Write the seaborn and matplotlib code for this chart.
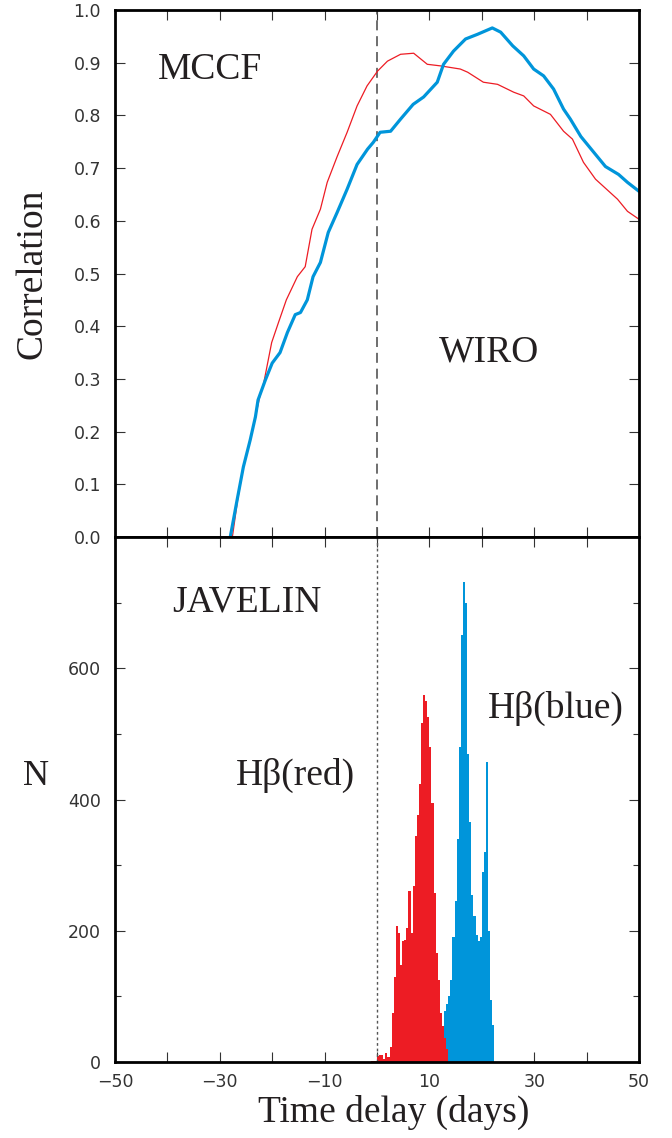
import matplotlib
matplotlib.use("Agg")
import matplotlib.pyplot as plt
import seaborn as sns
import numpy as np
import pandas as pd

# ---- MCCF cross-correlation curves (time delay in days, correlation) ----
red_lag = [-27.6, -26.6, -25.5, -24.2, -23.2, -22.4, -21.6, -20.1, -18.8, -17.3,
           -15.2, -13.7, -12.4, -10.8, -9.5, -7.6, -5.7, -3.8, -1.9, 0.1,
           2.0, 4.5, 7.0, 9.6, 12.1, 15.9, 17.3, 20.3, 23.0, 26.1,
           28.0, 29.9, 33.1, 35.6, 37.3, 39.4, 41.7, 45.9, 47.8, 50.0]
red_ccf = [0.0, 0.07, 0.133, 0.184, 0.228, 0.265, 0.293, 0.369, 0.407, 0.45,
           0.494, 0.513, 0.584, 0.622, 0.673, 0.722, 0.768, 0.818, 0.856, 0.884,
           0.903, 0.916, 0.918, 0.897, 0.894, 0.888, 0.882, 0.863, 0.859, 0.844,
           0.837, 0.818, 0.802, 0.770, 0.755, 0.711, 0.679, 0.641, 0.618, 0.603]

blue_lag = [-28.0, -26.7, -25.5, -24.2, -23.2, -22.7, -21.3, -20.0, -18.5, -17.1,
            -15.6, -14.6, -13.3, -12.2, -10.8, -9.3, -7.6, -5.7, -3.8, -1.8,
            -0.7, 0.6, 2.6, 4.5, 6.9, 8.9, 11.5, 12.7, 14.6, 16.9,
            19.2, 22.0, 23.6, 25.9, 28.0, 29.9, 31.8, 33.7, 35.6, 36.9,
            38.9, 41.7, 43.6, 46.1, 47.8, 50.0]
blue_ccf = [0.0, 0.07, 0.133, 0.184, 0.228, 0.26, 0.298, 0.33, 0.35, 0.388,
            0.422, 0.426, 0.45, 0.494, 0.521, 0.578, 0.616, 0.660, 0.707, 0.736,
            0.749, 0.768, 0.770, 0.793, 0.821, 0.835, 0.863, 0.897, 0.922, 0.945,
            0.954, 0.966, 0.958, 0.932, 0.913, 0.888, 0.875, 0.850, 0.812, 0.793,
            0.760, 0.726, 0.703, 0.688, 0.673, 0.656]

# ---- JAVELIN lag distributions (0.4-day bins) ----
red_bin_start = -1.2
red_counts = [2, 2, 2, 9, 10, 10, 5, 14, 7, 23,
              75, 130, 207, 196, 148, 184, 186, 204, 260, 197,
              268, 344, 377, 423, 517, 560, 550, 525, 480, 395,
              258, 166, 125, 74, 55, 37, 20]

blue_bin_start = 12.8
blue_counts = [77, 88, 100, 125, 190, 245, 340, 480, 650, 731,
               700, 470, 365, 255, 222, 194, 185, 190, 290, 320,
               457, 200, 95, 56]
bin_width = 0.4

# ---- axis ticks ----
x_ticks = [-50, -40, -30, -20, -10, 0, 10, 20, 30, 40, 50]
x_tick_labels = ["\u221250", "", "\u221230", "", "\u221210", "", "10", "", "30", "", "50"]
corr_ticks = [0.0, 0.1, 0.2, 0.3, 0.4, 0.5, 0.6, 0.7, 0.8, 0.9, 1.0]
corr_tick_labels = ["0.0", "0.1", "0.2", "0.3", "0.4", "0.5", "0.6", "0.7", "0.8", "0.9", "1.0"]
n_ticks = [0, 200, 400, 600, 800]
n_tick_labels = ["0", "200", "400", "600", ""]
n_minor_ticks = [100, 300, 500, 700]

RED = "#ED1C24"
BLUE = "#0095DA"
INK = "#231F20"
SERIF = "Liberation Serif"

sns.set_style("ticks")
plt.rcParams["font.family"] = ["DejaVu Sans"]
plt.rcParams["axes.linewidth"] = 2.0

fig = plt.figure(figsize=(6.72, 11.38), dpi=100)
ax1 = fig.add_axes([0.1711, 0.5281, 0.7798, 0.4631])
ax2 = fig.add_axes([0.1711, 0.0668, 0.7798, 0.4613], sharex=ax1)

# top panel: cross-correlation functions
df_red = pd.DataFrame({"lag": red_lag, "r": red_ccf})
df_blue = pd.DataFrame({"lag": blue_lag, "r": blue_ccf})
sns.lineplot(data=df_red, x="lag", y="r", ax=ax1, color=RED, lw=0.9)
sns.lineplot(data=df_blue, x="lag", y="r", ax=ax1, color=BLUE, lw=2.3)
ax1.axvline(0, color="#555555", ls=(0, (6, 3.5)), lw=1.2, zorder=1)

# bottom panel: lag histograms
red_edges = [float(v) for v in red_bin_start + bin_width * np.arange(len(red_counts) + 1)]
blue_edges = [float(v) for v in blue_bin_start + bin_width * np.arange(len(blue_counts) + 1)]
hist_red = pd.DataFrame({"lag": np.add(red_edges[:-1], red_edges[1:]) / 2, "n": red_counts})
hist_blue = pd.DataFrame({"lag": np.add(blue_edges[:-1], blue_edges[1:]) / 2, "n": blue_counts})
sns.histplot(data=hist_blue, x="lag", weights="n", bins=blue_edges, element="step",
             fill=True, color=BLUE, alpha=1, linewidth=0, ax=ax2)
sns.histplot(data=hist_red, x="lag", weights="n", bins=red_edges, element="step",
             fill=True, color=RED, alpha=1, linewidth=0, ax=ax2)
ax2.axvline(0, color="#555555", ls=(0, (2, 2)), lw=1.0, zorder=1)

# axes styling
for ax in (ax1, ax2):
    ax.set_xlim(-50, 50)
    ax.tick_params(which="both", direction="in", top=True, right=True,
                   width=0.8, color="#333333", labelsize=12.5, labelcolor="#333333")
    ax.tick_params(which="major", length=7, pad=10)
    ax.tick_params(which="minor", length=4)
    for sp in ax.spines.values():
        sp.set_linewidth(2.0)
        sp.set_color("black")

ax1.set_ylim(0, 1.0)
ax1.set_yticks(corr_ticks)
ax1.set_yticklabels(corr_tick_labels)
ax1.tick_params(labelbottom=False)
ax1.set_xlabel("")
ax1.set_ylabel("Correlation", fontfamily=SERIF, fontsize=27, color=INK)
ax1.yaxis.set_label_coords(-0.125, 0.5)

ax2.set_ylim(0, 800)
ax2.set_yticks(n_ticks)
ax2.set_yticklabels(n_tick_labels)
ax2.set_yticks(n_minor_ticks, minor=True)
ax2.set_xticks(x_ticks)
ax2.set_xticklabels(x_tick_labels)
ax2.tick_params(axis="x", pad=8)
ax2.set_ylabel("N", fontfamily=SERIF, fontsize=26, color=INK, rotation=0)
ax2.yaxis.set_label_coords(-0.15, 0.513)
ax2.set_xlabel("Time delay (days)", fontfamily=SERIF, fontsize=27, color=INK)
ax2.xaxis.set_label_coords(0.532, -0.062)

# panel annotations
ax1.text(-41.8, 0.869, "MCCF", fontfamily=SERIF, fontsize=27, color=INK, va="baseline")
ax1.text(11.8, 0.333, "WIRO", fontfamily=SERIF, fontsize=27, color=INK, va="baseline")
ax2.text(-39.1, 687, "JAVELIN", fontfamily=SERIF, fontsize=27, color=INK, va="baseline")
ax2.text(-26.9, 423, "H\u03b2(red)", fontfamily=SERIF, fontsize=27, color=INK, va="baseline")
ax2.text(21.1, 525, "H\u03b2(blue)", fontfamily=SERIF, fontsize=27, color=INK, va="baseline")

fig.savefig("out.png", dpi=100)
